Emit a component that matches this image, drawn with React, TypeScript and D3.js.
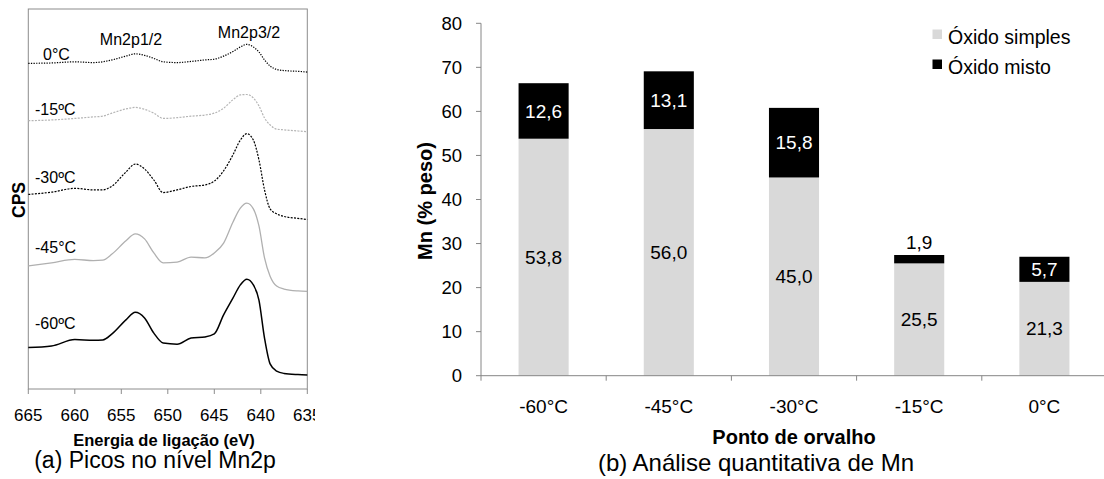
import React from 'react';
import * as d3 from 'd3';

// ---------- Panel (a): XPS Mn2p spectra ----------
const energies = [665, 662.5, 660, 658, 657, 656, 654.5, 653.5, 652.5, 651.5, 650.5, 649, 647.5, 646, 645, 644, 643, 642.2, 641.5, 640.8, 640.2, 639.6, 639, 638.3, 637.5, 636, 635];
const cps0C = [85.7, 85.8, 86.1, 85.9, 86.1, 86.6, 87.6, 88.2, 87.8, 87.0, 86.1, 85.9, 86.2, 86.6, 86.8, 87.6, 88.8, 90.0, 90.7, 90.0, 88.7, 86.6, 85.0, 84.1, 83.8, 83.6, 83.4];
const cpsM15C = [70.6, 70.8, 71.2, 71.6, 71.8, 72.6, 73.7, 74.1, 73.6, 72.6, 71.2, 71.4, 71.8, 72.1, 72.6, 73.9, 76.1, 77.4, 77.5, 76.6, 74.5, 71.3, 69.5, 68.4, 68.2, 67.9, 67.7];
const cpsM30C = [51.2, 51.8, 52.8, 52.4, 52.4, 53.4, 57.1, 59.2, 57.9, 55.0, 51.7, 52.4, 53.3, 53.7, 54.7, 57.4, 61.6, 65.5, 67.2, 65.5, 60.3, 52.4, 47.4, 46.1, 45.4, 44.9, 44.6];
const cpsM45C = [32.4, 33.2, 34.1, 33.8, 33.9, 35.5, 39.0, 40.8, 39.5, 35.8, 33.2, 33.4, 34.7, 34.5, 35.8, 38.4, 43.9, 47.6, 48.9, 47.4, 42.9, 34.5, 29.7, 27.1, 26.3, 25.8, 25.7];
const cpsM60C = [10.9, 11.3, 13.0, 12.8, 12.9, 14.5, 18.2, 20.2, 18.7, 14.7, 12.1, 11.8, 13.4, 13.7, 14.5, 19.5, 23.9, 27.4, 28.9, 27.4, 23.4, 13.4, 6.6, 4.7, 4.1, 3.8, 3.7];
const spectraNames = ['0°C', '-15ºC', '-30ºC', '-45°C', '-60ºC'];
const spectraValues = [cps0C, cpsM15C, cpsM30C, cpsM45C, cpsM60C];
const energyTicks = [665, 660, 655, 650, 645, 640, 635];
const peakNames = ['Mn2p1/2', 'Mn2p3/2'];

// ---------- Panel (b): stacked bars ----------
const categories = ['-60°C', '-45°C', '-30°C', '-15°C', '0°C'];
const oxidoSimples = [53.8, 56.0, 45.0, 25.5, 21.3];
const oxidoMisto = [12.6, 13.1, 15.8, 1.9, 5.7];
const yTicks = [0, 10, 20, 30, 40, 50, 60, 70, 80];
const legendNames = ['Óxido simples', 'Óxido misto'];

// styles / layout (kept separate from data)
const spectraStyles = [
  { color: '#000', dash: '1.3,1.3', width: 1.2, lx: 43, ly: 59.5 },
  { color: '#b5b5b5', dash: '2,1.3', width: 1.2, lx: 35, ly: 115 },
  { color: '#000', dash: '2,1.3', width: 1.2, lx: 35, ly: 183 },
  { color: '#b0b0b0', dash: 'none', width: 1.3, lx: 35, ly: 252.5 },
  { color: '#000', dash: 'none', width: 1.5, lx: 35, ly: 328.5 },
];
const FONT = 'Liberation Sans, Arial, Helvetica, sans-serif';
const fmt = (v: number) => v.toFixed(1).replace('.', ',');

export default function App() {
  // panel a scales
  const xE = d3.scaleLinear().domain([665, 635]).range([28.3, 307.3]);
  const yC = d3.scaleLinear().domain([0, 100]).range([389, 9]);
  const line = d3
    .line<number>()
    .x((_, i) => xE(energies[i]))
    .y((d) => yC(d))
    .curve(d3.curveMonotoneX);

  // panel b scales
  const xB = d3.scaleBand<string>().domain(categories).range([481, 1107]).padding(0);
  const yB = d3.scaleLinear().domain([0, 80]).range([375.7, 23.3]);
  const barW = xB.bandwidth() * 0.4;
  const axisColor = '#868686';
  const boundaries = [...categories.map((c) => xB(c) as number), 1107];

  return (
    <svg
      width={1104}
      height={479}
      style={{ position: 'absolute', left: 0, top: 0, background: '#fff' }}
      fontFamily={FONT}
    >
      <rect x={0} y={0} width={1104} height={479} fill="#fff" />
      <defs>
        <clipPath id="clipA">
          <rect x={0} y={0} width={315} height={479} />
        </clipPath>
      </defs>

      {/* ----- Panel (a) ----- */}
      <g clipPath="url(#clipA)">
        <rect x={xE(665)} y={yC(100)} width={xE(635) - xE(665)} height={yC(0) - yC(100)} fill="none" stroke="#8c8c8c" strokeWidth={1} />
        {energyTicks.map((t) => (
          <g key={t}>
            <line x1={xE(t)} x2={xE(t)} y1={yC(0)} y2={yC(0) + 5} stroke="#8c8c8c" />
            <text x={xE(t)} y={421} textAnchor="middle" fontSize={17} fill="#000">
              {t}
            </text>
          </g>
        ))}
        {spectraValues.map((vals, k) => (
          <path
            key={k}
            d={line(vals) as string}
            fill="none"
            stroke={spectraStyles[k].color}
            strokeWidth={spectraStyles[k].width}
            strokeDasharray={spectraStyles[k].dash}
          />
        ))}
        {spectraNames.map((n, k) => (
          <text key={n} x={spectraStyles[k].lx} y={spectraStyles[k].ly} fontSize={16} fill="#000">
            {n}
          </text>
        ))}
        <text x={131} y={44.5} textAnchor="middle" fontSize={16} fill="#000">
          {peakNames[0]}
        </text>
        <text x={249} y={37.5} textAnchor="middle" fontSize={16} fill="#000">
          {peakNames[1]}
        </text>
      </g>
      <text
        transform="translate(24.5,200) rotate(-90)"
        textAnchor="middle"
        fontSize={17.5}
        fontWeight="bold"
        fill="#000"
      >
        CPS
      </text>
      <text x={164} y={445.5} textAnchor="middle" fontSize={16.5} fontWeight="bold" fill="#000">
        Energia de ligação (eV)
      </text>
      <text x={155} y={468} textAnchor="middle" fontSize={23} fill="#000">
        (a) Picos no nível Mn2p
      </text>

      {/* ----- Panel (b) ----- */}
      {categories.map((c, i) => {
        const cx = (xB(c) as number) + xB.bandwidth() / 2;
        const y0 = yB(0);
        const y1 = yB(oxidoSimples[i]);
        const y2 = yB(oxidoSimples[i] + oxidoMisto[i]);
        const mistoInside = y1 - y2 > 15;
        return (
          <g key={c}>
            <rect x={cx - barW / 2} y={y1} width={barW} height={y0 - y1} fill="#d9d9d9" />
            <rect x={cx - barW / 2} y={y2} width={barW} height={y1 - y2} fill="#000" />
            <text x={cx} y={(y0 + y1) / 2} dy="0.35em" textAnchor="middle" fontSize={19} fill="#000">
              {fmt(oxidoSimples[i])}
            </text>
            <text
              x={cx}
              y={mistoInside ? (y1 + y2) / 2 : y2 - 6}
              dy={mistoInside ? '0.35em' : '0'}
              textAnchor="middle"
              fontSize={19}
              fill={mistoInside ? '#fff' : '#000'}
            >
              {fmt(oxidoMisto[i])}
            </text>
            <text x={cx} y={413} textAnchor="middle" fontSize={19} fill="#000">
              {c}
            </text>
          </g>
        );
      })}
      {/* y axis */}
      <line x1={481} x2={481} y1={yB(80)} y2={yB(0)} stroke={axisColor} />
      {yTicks.map((t) => (
        <g key={t}>
          <line x1={476} x2={481} y1={yB(t)} y2={yB(t)} stroke={axisColor} />
          <text x={462} y={yB(t)} dy="0.35em" textAnchor="end" fontSize={18.5} fill="#000">
            {t}
          </text>
        </g>
      ))}
      {/* x axis */}
      <line x1={481} x2={1107} y1={yB(0)} y2={yB(0)} stroke={axisColor} />
      {boundaries.map((bx, i) => (
        <line key={i} x1={bx} x2={bx} y1={yB(0)} y2={yB(0) + 5} stroke={axisColor} />
      ))}
      <text
        transform="translate(432,201) rotate(-90)"
        textAnchor="middle"
        fontSize={20}
        fontWeight="bold"
        fill="#000"
      >
        Mn (% peso)
      </text>
      <text x={794} y={443.5} textAnchor="middle" fontSize={20} fontWeight="bold" fill="#000">
        Ponto de orvalho
      </text>
      <text x={756} y={471} textAnchor="middle" fontSize={24} fill="#000">
        (b) Análise quantitativa de Mn
      </text>
      {/* legend */}
      <rect x={932.5} y={29.5} width={9.5} height={9.5} fill="#d9d9d9" />
      <text x={948} y={43.5} fontSize={19.5} fill="#000">
        {legendNames[0]}
      </text>
      <rect x={932.5} y={59.5} width={9.5} height={9.5} fill="#000" />
      <text x={948} y={73.5} fontSize={19.5} fill="#000">
        {legendNames[1]}
      </text>
    </svg>
  );
}
